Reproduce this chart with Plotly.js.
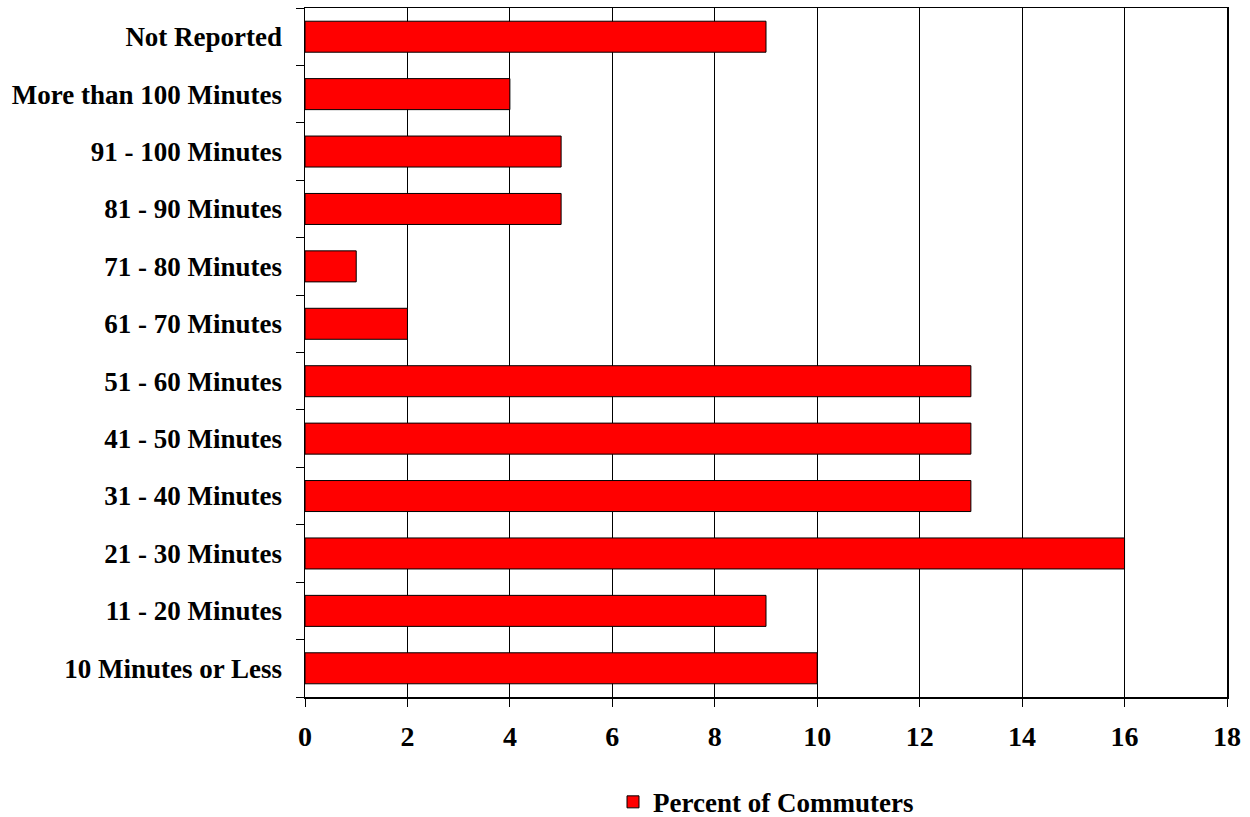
<!DOCTYPE html>
<html>
<head>
<meta charset="utf-8">
<script src="https://cdn.plot.ly/plotly-3.0.1.min.js"></script>
<style>html,body{margin:0;padding:0;background:#fff;}#chart{width:1250px;height:817px;}</style>
</head>
<body>
<div id="chart"></div>
<script>
var categories = ["10 Minutes or Less","11 - 20 Minutes","21 - 30 Minutes","31 - 40 Minutes","41 - 50 Minutes","51 - 60 Minutes","61 - 70 Minutes","71 - 80 Minutes","81 - 90 Minutes","91 - 100 Minutes","More than 100 Minutes","Not Reported"];
var percentValues = [10, 9, 16, 13, 13, 13, 2, 1, 5, 5, 4, 9];
var seriesName = "Percent of Commuters";
var xTicks = [0,2,4,6,8,10,12,14,16,18];

var fontFam = "'Liberation Serif', 'Times New Roman', serif";
var trace = {
  type: 'bar',
  orientation: 'h',
  y: categories,
  x: percentValues,
  name: seriesName,
  marker: {color: '#ff0000', line: {color: '#000000', width: 1}},
  showlegend: true,
  hoverinfo: 'x+y'
};
var layout = {
  width: 1250, height: 817,
  margin: {l: 305, r: 23, t: 8, b: 120, autoexpand: false},
  paper_bgcolor: '#ffffff', plot_bgcolor: '#ffffff',
  bargap: 0.46,
  font: {family: fontFam, size: 26, color: '#000', weight: 'bold'},
  xaxis: {
    range: [0, 18],
    tickvals: xTicks,
    ticktext: xTicks.map(String),
    showgrid: true, gridcolor: '#000', gridwidth: 1,
    showline: true, linecolor: '#000', linewidth: 1.5, mirror: true,
    ticks: 'outside', ticklen: 8, tickcolor: '#000',
    tickfont: {family: fontFam, size: 28, color: '#000', weight: 'bold'},
    ticklabelstandoff: 6,
    zeroline: false,
    automargin: false,
    fixedrange: true
  },
  yaxis: {
    type: 'category',
    categoryorder: 'array', categoryarray: categories,
    range: [-0.5, 11.5],
    showline: true, linecolor: '#000', linewidth: 1.5, mirror: true,
    ticks: 'outside', ticklen: 8, tickcolor: '#000', tickson: 'boundaries',
    showgrid: false,
    tickfont: {family: fontFam, size: 27, color: '#000', weight: 'bold'},
    ticklabelstandoff: 16,
    automargin: false,
    fixedrange: true
  },
  legend: {
    orientation: 'h', x: 0.5, xanchor: 'center',
    yref: 'container', y: 0.018, yanchor: 'middle',
    font: {family: fontFam, size: 27, color: '#000', weight: 'bold'},
    itemwidth: 30
  }
};
Plotly.newPlot('chart', [trace], layout, {displayModeBar: false, staticPlot: true});
</script>
</body>
</html>
